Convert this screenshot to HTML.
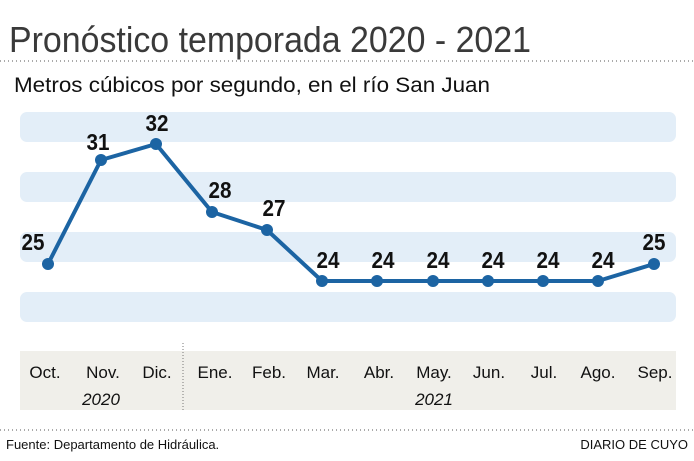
<!DOCTYPE html><html><head><style>body{margin:0;background:#fff}svg{display:block}</style></head><body>
<svg width="694" height="461" viewBox="0 0 694 461" xmlns="http://www.w3.org/2000/svg" font-family="Liberation Sans, sans-serif">
<text x="9" y="52" font-size="36" fill="#3a3a3a" textLength="522" lengthAdjust="spacingAndGlyphs">Pronóstico temporada 2020 - 2021</text>
<line x1="0" y1="61" x2="694" y2="61" stroke="#555" stroke-width="1" stroke-dasharray="1,3"/>
<text x="14" y="92" font-size="21" fill="#111" textLength="476" lengthAdjust="spacingAndGlyphs">Metros cúbicos por segundo, en el río San Juan</text>
<g fill="#e3eef8">
<rect x="20" y="112" width="656" height="30" rx="7"/>
<rect x="20" y="172" width="656" height="30" rx="7"/>
<rect x="20" y="232" width="656" height="30" rx="7"/>
<rect x="20" y="292" width="656" height="30" rx="7"/>
</g>
<rect x="20" y="351" width="656" height="59" fill="#f0efea"/>
<line x1="183" y1="343" x2="183" y2="412" stroke="#777" stroke-dasharray="1,2"/>
<polyline fill="none" stroke="#1c64a3" stroke-width="4" stroke-linejoin="round" points="48,264 101,160 156,144 212,212 267,230 322,281 377,281 433,281 488,281 543,281 598,281 654,264"/>
<g fill="#1c64a3">
<circle cx="48" cy="264" r="6"/><circle cx="101" cy="160" r="6"/><circle cx="156" cy="144" r="6"/><circle cx="212" cy="212" r="6"/><circle cx="267" cy="230" r="6"/><circle cx="322" cy="281" r="6"/><circle cx="377" cy="281" r="6"/><circle cx="433" cy="281" r="6"/><circle cx="488" cy="281" r="6"/><circle cx="543" cy="281" r="6"/><circle cx="598" cy="281" r="6"/><circle cx="654" cy="264" r="6"/>
</g>
<g font-size="23" font-weight="bold" fill="#111" text-anchor="middle">
<text x="33" y="250" textLength="23" lengthAdjust="spacingAndGlyphs">25</text><text x="98" y="150" textLength="23" lengthAdjust="spacingAndGlyphs">31</text><text x="157" y="131" textLength="23" lengthAdjust="spacingAndGlyphs">32</text><text x="220" y="198" textLength="23" lengthAdjust="spacingAndGlyphs">28</text><text x="274" y="216" textLength="23" lengthAdjust="spacingAndGlyphs">27</text>
<text x="328" y="268" textLength="23" lengthAdjust="spacingAndGlyphs">24</text><text x="383" y="268" textLength="23" lengthAdjust="spacingAndGlyphs">24</text><text x="438" y="268" textLength="23" lengthAdjust="spacingAndGlyphs">24</text><text x="493" y="268" textLength="23" lengthAdjust="spacingAndGlyphs">24</text><text x="548" y="268" textLength="23" lengthAdjust="spacingAndGlyphs">24</text><text x="603" y="268" textLength="23" lengthAdjust="spacingAndGlyphs">24</text><text x="654" y="250" textLength="23" lengthAdjust="spacingAndGlyphs">25</text>
</g>
<g font-size="17" fill="#111" text-anchor="middle">
<text x="45" y="378">Oct.</text><text x="103" y="378">Nov.</text><text x="157" y="378">Dic.</text><text x="215" y="378">Ene.</text><text x="269" y="378">Feb.</text><text x="323" y="378">Mar.</text><text x="379" y="378">Abr.</text><text x="434" y="378">May.</text><text x="489" y="378">Jun.</text><text x="544" y="378">Jul.</text><text x="598" y="378">Ago.</text><text x="655" y="378">Sep.</text>
<text x="101" y="405" font-style="italic">2020</text><text x="434" y="405" font-style="italic">2021</text>
</g>
<line x1="0" y1="430" x2="694" y2="430" stroke="#555" stroke-dasharray="1,3"/>
<text x="6" y="449" font-size="13" fill="#111">Fuente: Departamento de Hidráulica.</text>
<text x="688" y="449" font-size="13" fill="#111" text-anchor="end">DIARIO DE CUYO</text>
</svg></body></html>
